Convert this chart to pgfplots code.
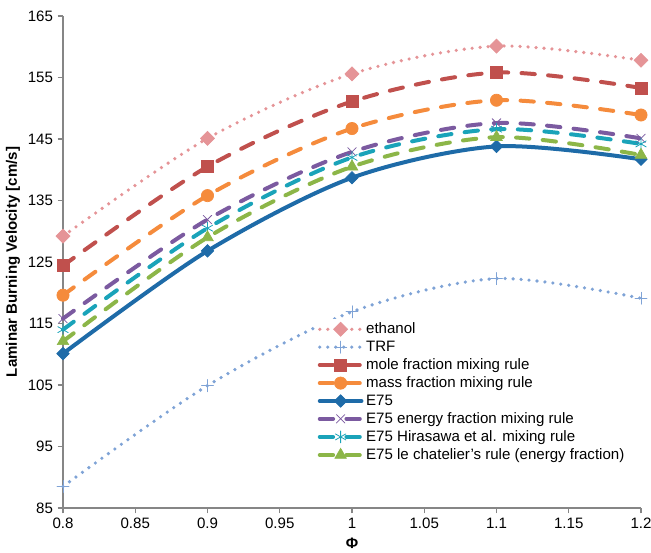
\documentclass[border=0pt]{standalone}
\usepackage{fontspec}
\setmainfont{Liberation Sans}
\usepackage{pgfplots}
\usepackage{pgfplotstable}
\pgfplotsset{compat=1.18}
\definecolor{ethcol}{HTML}{E59497}
\definecolor{trfcol}{HTML}{7FA3D6}
\definecolor{molecol}{HTML}{C0504D}
\definecolor{masscol}{HTML}{F58B3C}
\definecolor{ecol}{HTML}{1E6BA8}
\definecolor{encol}{HTML}{7B5AA0}
\definecolor{hircol}{HTML}{1AA3B9}
\definecolor{lecol}{HTML}{8CB648}
\definecolor{axgray}{HTML}{868686}

% phi, burning velocity per series
\pgfplotstableread{
phi  eth    trf    mole   mass   e75    enf    hir    lech
0.8  129.2  88.5   124.4  119.6  110.1  115.8  114.0  112.1
0.9  145.1  104.9  140.5  135.8  126.8  131.9  130.5  129.0
1.0  155.6  116.9  151.1  146.7  138.7  142.9  142.0  140.5
1.1  160.1  122.3  155.8  151.3  143.8  147.6  146.6  145.3
1.2  157.8  119.1  153.3  148.9  141.7  145.1  144.2  142.4
}\lbv

\begin{document}
\begin{tikzpicture}
\begin{axis}[
  scale only axis,
  width=433.5pt, height=369pt,
  xmin=0.8, xmax=1.2, ymin=85, ymax=165,
  xtick={0.8,0.85,...,1.21},
  ytick={85,95,...,165},
  xticklabels={0.8,0.85,0.9,0.95,1,1.05,1.1,1.15,1.2},
  axis x line*=bottom, axis y line*=left,
  axis line style={axgray, line width=0.8pt},
  tick style={axgray, line width=0.8pt},
  tick align=outside,
  major tick length=4pt,
  /pgf/number format/assume math mode=true,
  ticklabel style={font=\fontsize{11.3}{13}\selectfont},
  xlabel={\textbf{Φ}},
  ylabel={\textbf{Laminar Burning Velocity [cm/s]}},
  label style={font=\fontsize{11.3}{13}\selectfont},
  ylabel style={yshift=-1pt},
  clip=false,
  legend cell align=left,
  legend style={at={(rel axis cs:0.438,0.385)}, anchor=north west, draw=none,
    fill=white, font=\fontsize{11.3}{13}\selectfont, row sep=-0.1pt,
    inner sep=1pt},
  legend image code/.code={\draw[mark repeat=2,mark phase=2]
    plot coordinates {(0cm,0cm) (0.55cm,0cm) (1.1cm,0cm)};},
  every axis plot/.append style={smooth, line cap=round},
]
\addplot[ethcol, line width=2.7pt, dash pattern=on 0pt off 6pt,
  mark=square*, mark size=3.7pt, mark options={solid, rotate=45, line width=0.5pt}]
  table[x=phi, y=eth] {\lbv};
\addplot[trfcol, line width=2.7pt, dash pattern=on 0pt off 6pt,
  mark=+, mark size=4.5pt, mark options={solid, line width=0.6pt}]
  table[x=phi, y=trf] {\lbv};
\addplot[molecol, line width=3pt, dash pattern=on 10pt off 10pt,
  mark=square*, mark size=4.5pt, mark options={solid, line width=0.5pt}]
  table[x=phi, y=mole] {\lbv};
\addplot[masscol, line width=3pt, dash pattern=on 10pt off 10pt,
  mark=*, mark size=4.6pt, mark options={solid, line width=0.5pt}]
  table[x=phi, y=mass] {\lbv};
\addplot[ecol, line width=3pt,
  mark=square*, mark size=3.3pt, mark options={solid, rotate=45, line width=0.5pt}]
  table[x=phi, y=e75] {\lbv};
\addplot[encol, line width=3pt, dash pattern=on 10pt off 10pt,
  mark=x, mark size=4.5pt, mark options={solid, line width=0.6pt}]
  table[x=phi, y=enf] {\lbv};
\addplot[hircol, line width=3pt, dash pattern=on 10pt off 10pt,
  mark=asterisk, mark size=4.5pt, mark options={solid, line width=0.6pt}]
  table[x=phi, y=hir] {\lbv};
\addplot[lecol, line width=3pt, dash pattern=on 10pt off 10pt,
  mark=triangle*, mark size=5pt, mark options={solid, line width=0.5pt}]
  table[x=phi, y=lech] {\lbv};
\legend{ethanol, TRF, mole fraction mixing rule, mass fraction mixing rule, E75,
  E75 energy fraction mixing rule, E75 Hirasawa et al. mixing rule,
  E75 le chatelier's rule (energy fraction)}
\end{axis}
\pgfresetboundingbox
\path[use as bounding box] (-47.25pt,-33.75pt) rectangle (441pt,381pt);
\end{tikzpicture}
\end{document}
